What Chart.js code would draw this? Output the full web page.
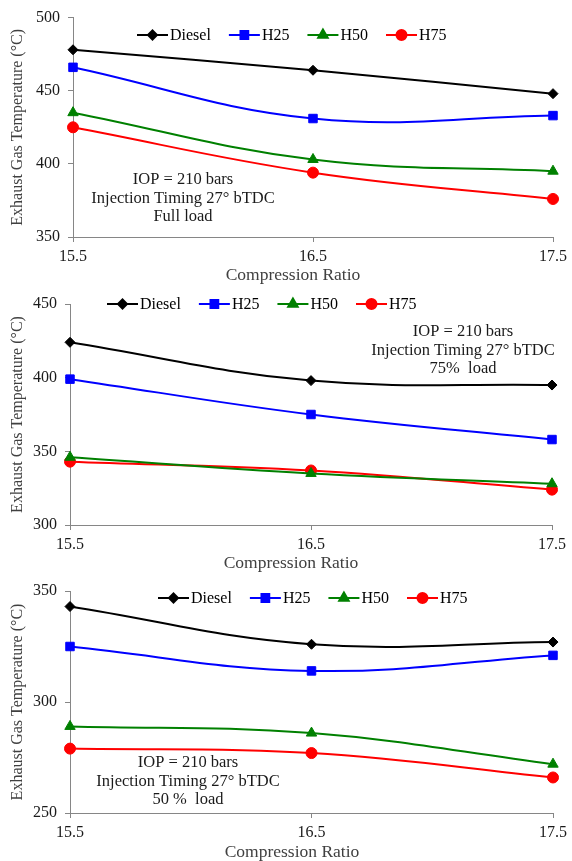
<!DOCTYPE html>
<html>
<head>
<meta charset="utf-8">
<script src="https://cdn.jsdelivr.net/npm/chart.js@4"></script>
<style>
  html, body { margin: 0; padding: 0; background: #fff; }
  #wrap { position: relative; width: 572px; height: 861px; overflow: hidden; }
  .panel { position: absolute; left: 0; width: 572px; }
</style>
</head>
<body>
<div id="wrap">
  <div class="panel" style="top:0;height:285px"><canvas id="c1"></canvas></div>
  <div class="panel" style="top:283px;height:290px"><canvas id="c2"></canvas></div>
  <div class="panel" style="top:571px;height:290px"><canvas id="c3"></canvas></div>
</div>
<script>
'use strict';

// ─── Data ─────────────────────────────────────────────────────────────────────

const ratios = ['15.5', '16.5', '17.5'];
const fuels = ['Diesel', 'H25', 'H50', 'H75'];

// Full load
const fullDiesel = [478, 464, 448];
const fullH25 = [466, 431, 433];
const fullH50 = [435, 403, 395];
const fullH75 = [425, 394, 376];

// 75% load
const partDiesel = [424, 398, 395];
const partH25 = [399, 375, 358];
const partH50 = [346, 335, 328];
const partH75 = [343, 337, 324];

// 50% load
const halfDiesel = [343, 326, 327];
const halfH25 = [325, 314, 321];
const halfH50 = [289, 286, 272];
const halfH75 = [279, 277, 266];

const yTicksFull = [350, 500];
const yTicksPart = [300, 450];
const yTicksHalf = [250, 350];

const notesFull = ['IOP = 210 bars', 'Injection Timing 27\u00b0 bTDC', 'Full load'];
const notesPart = ['IOP = 210 bars', 'Injection Timing 27\u00b0 bTDC', '75%  load'];
const notesHalf = ['IOP = 210 bars', 'Injection Timing 27\u00b0 bTDC', '50 %  load'];

// ─── Styles ───────────────────────────────────────────────────────────────────

const FONT = "'Liberation Serif', 'Times New Roman', serif";
const AXIS = '#868686';
const series = [
  { color: '#000000', style: 'rectRot', radius: 5 },
  { color: '#0000ff', style: 'rect', radius: 6 },
  { color: '#008000', style: 'triangle', radius: 6 },
  { color: '#ff0000', style: 'circle', radius: 5.5 },
];

// ─── Plugin: legend, notes, x title ──────────────────────────────────────────

const decor = {
  id: 'decor',
  afterDraw(chart, args, o) {
    const ctx = chart.ctx;
    ctx.save();
    ctx.font = `16px ${FONT}`;
    ctx.textBaseline = 'middle';

    // legend
    let x = o.legendX;
    chart.data.datasets.forEach((ds, i) => {
      const s = series[i];
      ctx.strokeStyle = s.color;
      ctx.fillStyle = s.color;
      ctx.lineWidth = 2;
      ctx.beginPath();
      ctx.moveTo(x, o.legendY);
      ctx.lineTo(x + 31, o.legendY);
      ctx.stroke();
      Chart.helpers.drawPoint(ctx, {
        pointStyle: s.style, radius: s.radius - 0.5, rotation: 0, borderWidth: 1,
      }, x + 15.5, o.legendY);
      ctx.fillStyle = '#000';
      ctx.textAlign = 'left';
      ctx.fillText(ds.label, x + 33, o.legendY + 1);
      x += 33 + ctx.measureText(ds.label).width + 18;
    });

    // notes
    ctx.fillStyle = '#1a1a1a';
    ctx.textAlign = 'center';
    ctx.font = `16.5px ${FONT}`;
    o.notes.forEach((t, i) => ctx.fillText(t, o.noteX, o.noteY + i * 18.5));

    // x title
    ctx.fillStyle = '#404040';
    ctx.font = `17.5px ${FONT}`;
    ctx.fillText('Compression Ratio', o.titleX, o.titleY);
    ctx.restore();
  },
};

// ─── Chart builder ────────────────────────────────────────────────────────────

function makeChart(id, values, yRange, area, deco) {
  const canvas = document.getElementById(id);
  const H = canvas.parentNode.offsetHeight;
  canvas.width = 572;
  canvas.height = H;

  return new Chart(canvas, {
    type: 'line',
    data: {
      labels: ratios,
      datasets: values.map((v, i) => ({
        label: fuels[i],
        data: v,
        borderColor: series[i].color,
        backgroundColor: series[i].color,
        borderWidth: 2,
        pointStyle: series[i].style,
        pointRadius: series[i].radius,
        pointBorderWidth: 1,
        tension: 0.4,
        fill: false,
      })),
    },
    options: {
      responsive: false,
      animation: false,
      devicePixelRatio: 1,
      layout: { padding: { top: area.top, right: 572 - area.right, left: 0, bottom: 0 } },
      plugins: { legend: { display: false }, tooltip: { enabled: false }, decor: deco },
      scales: {
        x: {
          type: 'category',
          offset: false,
          afterFit: (s) => { s.height = H - area.bottom; },
          grid: { drawOnChartArea: false, tickLength: 5, color: AXIS },
          border: { color: AXIS, width: 1 },
          ticks: { color: '#1a1a1a', font: { family: FONT, size: 16 }, padding: 5, maxRotation: 0 },
        },
        y: {
          min: yRange[0],
          max: yRange[1],
          afterFit: (s) => { s.width = area.left; },
          grid: { drawOnChartArea: false, tickLength: 5, color: AXIS },
          border: { color: AXIS, width: 1 },
          ticks: { stepSize: 50, color: '#1a1a1a', font: { family: FONT, size: 16 }, padding: 8 },
          title: {
            display: true,
            text: 'Exhaust Gas Temperature (\u00b0C)',
            color: '#404040',
            font: { family: FONT, size: 16 },
            padding: { top: 8, bottom: 0 },
          },
        },
      },
    },
    plugins: [decor],
  });
}

makeChart('c1', [fullDiesel, fullH25, fullH50, fullH75], yTicksFull,
  { left: 73, right: 556, top: 12, bottom: 237 },
  { legendX: 137, legendY: 35, notes: notesFull, noteX: 183, noteY: 180, titleX: 293, titleY: 275 });

makeChart('c2', [partDiesel, partH25, partH50, partH75], yTicksPart,
  { left: 70, right: 552, top: 21, bottom: 242 },
  { legendX: 107, legendY: 21, notes: notesPart, noteX: 463, noteY: 49, titleX: 291, titleY: 280 });

makeChart('c3', [halfDiesel, halfH25, halfH50, halfH75], yTicksHalf,
  { left: 70, right: 558, top: 20, bottom: 242 },
  { legendX: 158, legendY: 27, notes: notesHalf, noteX: 188, noteY: 192, titleX: 292, titleY: 281 });
</script>
</body>
</html>
